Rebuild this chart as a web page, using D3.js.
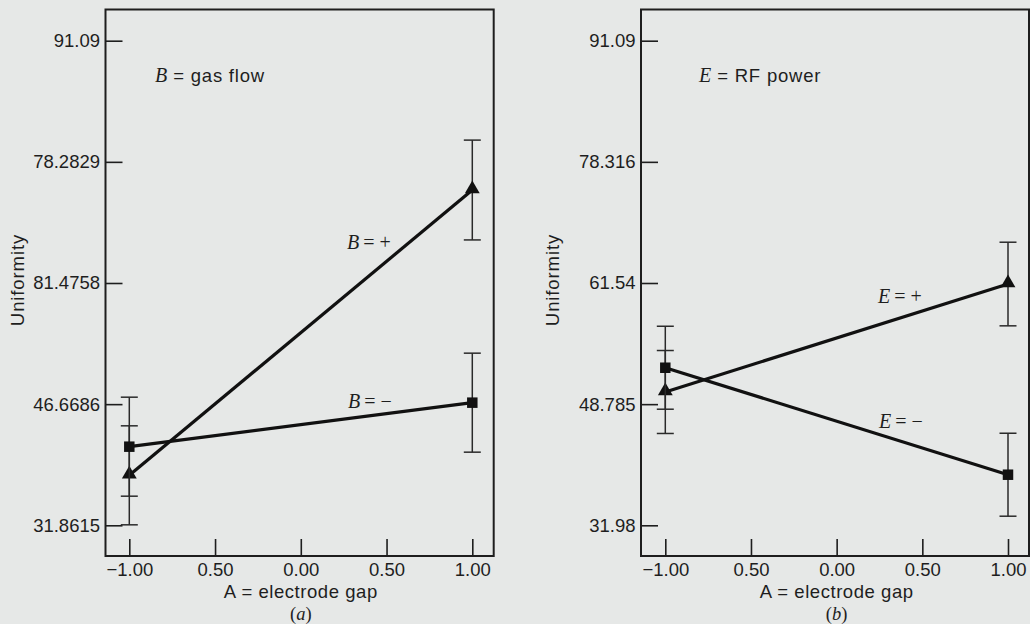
<!DOCTYPE html>
<html>
<head>
<meta charset="utf-8">
<script src="https://cdn.jsdelivr.net/npm/d3@7"></script>
<style>
  html, body { margin: 0; padding: 0; background: #e6e8e7; }
  svg { display: block; }
  .sans { font-family: "Liberation Sans", Arial, Helvetica, sans-serif; }
  .serif { font-family: "Liberation Serif", "DejaVu Serif", serif; }
</style>
</head>
<body>
<svg id="chart" width="1030" height="624"></svg>
<script>
// ---------- data ----------
const xLevels = [-1, 1];
const xTickValues = [-1, -0.5, 0, 0.5, 1];
const xTickLabels = ["\u22121.00", "0.50", "0.00", "0.50", "1.00"];

// panel (a): B = gas flow
const yTickValuesA = [31.8615, 46.6686, 61.4758, 76.2829, 91.09];
const yTickLabelsA = ["31.8615", "46.6686", "81.4758", "78.2829", "91.09"];
const bPlus = [37.97, 72.84];
const bPlusErr = [6.05, 6.1];
const bMinus = [41.47, 46.85];
const bMinusErr = [6.05, 6.05];

// panel (b): E = RF power
const yTickValuesB = [31.98, 46.7575, 61.535, 76.3125, 91.09];
const yTickLabelsB = ["31.98", "48.785", "61.54", "78.316", "91.09"];
const ePlus = [48.24, 61.41];
const ePlusErr = [5.06, 5.1];
const eMinus = [51.2, 38.15];
const eMinusErr = [5.06, 5.06];

// ---------- drawing ----------
const svg = d3.select("#chart");
const INK = "#1e1e1e";

function panel(cfg) {
  const g = svg.append("g");
  const x = d3.scaleLinear().domain([-1, 1]).range([cfg.x1, cfg.x2]);
  const y = d3.scaleLinear().domain([cfg.yTicks[0], cfg.yTicks[cfg.yTicks.length - 1]]).range([525.3, 40.7]);

  // frame
  g.append("rect")
    .attr("x", cfg.left).attr("y", 9.5)
    .attr("width", cfg.right - cfg.left).attr("height", 556 - 9.5)
    .attr("fill", "none").attr("stroke", INK).attr("stroke-width", 2);

  // y axis
  const yAxis = d3.axisLeft(y)
    .tickValues(cfg.yTicks)
    .tickFormat((d, i) => cfg.yLabels[i])
    .tickSize(-17)
    .tickPadding(5.5);
  const ya = g.append("g").attr("transform", `translate(${cfg.left},0)`).call(yAxis);
  ya.select(".domain").remove();
  ya.selectAll("line").attr("stroke", INK).attr("stroke-width", 1.6);
  ya.selectAll("text").attr("class", "sans").attr("font-size", 18.5).attr("fill", INK);

  // x axis
  const xAxis = d3.axisBottom(x)
    .tickValues(xTickValues)
    .tickFormat((d, i) => xTickLabels[i])
    .tickSize(-17)
    .tickPadding(7);
  const xa = g.append("g").attr("transform", `translate(0,556)`).call(xAxis);
  xa.select(".domain").remove();
  xa.selectAll("line").attr("stroke", INK).attr("stroke-width", 1.6);
  xa.selectAll("text").attr("class", "sans").attr("font-size", 18.5).attr("fill", INK);

  // axis titles
  const cx = (x(-1) + x(1)) / 2;
  g.append("text").attr("class", "sans")
    .attr("x", cx).attr("y", 597.5).attr("text-anchor", "middle")
    .attr("font-size", 18.5).style("letter-spacing", "0.55px").attr("fill", INK)
    .text("A = electrode gap");
  const sub = g.append("text").attr("class", "serif")
    .attr("x", cx).attr("y", 620).attr("text-anchor", "middle")
    .attr("font-size", 18.5).attr("fill", INK);
  sub.append("tspan").text("(");
  sub.append("tspan").attr("font-style", "italic").text(cfg.sub);
  sub.append("tspan").text(")");

  g.append("text").attr("class", "sans")
    .attr("transform", `translate(${cfg.yTitleX},280) rotate(-90)`)
    .attr("text-anchor", "middle").attr("font-size", 18.5)
    .style("letter-spacing", "0.9px").attr("fill", INK)
    .text("Uniformity");

  // factor title
  const t = g.append("text").attr("x", cfg.titleX).attr("y", 82).attr("fill", INK);
  t.append("tspan").attr("class", "serif").attr("font-style", "italic").attr("font-size", 20).text(cfg.factor);
  t.append("tspan").attr("class", "sans").attr("font-size", 18.5).style("letter-spacing", "0.8px")
    .text(" = " + cfg.factorName);

  // series
  cfg.series.forEach(s => {
    const pts = xLevels.map((lv, i) => ({ x: lv, v: s.values[i], e: s.err[i] }));
    // error bars
    pts.forEach(p => {
      const px = x(p.x);
      const eg = g.append("g").attr("stroke", "#2a2a2a").attr("stroke-width", 1.5);
      eg.append("line").attr("x1", px).attr("x2", px).attr("y1", y(p.v + p.e)).attr("y2", y(p.v - p.e));
      [p.v + p.e, p.v - p.e].forEach(v => {
        eg.append("line").attr("x1", px - 8.5).attr("x2", px + 8.5).attr("y1", y(v)).attr("y2", y(v));
      });
    });
    // line
    g.append("path").datum(pts)
      .attr("d", d3.line().x(d => x(d.x)).y(d => y(d.v)))
      .attr("fill", "none").attr("stroke", "#111").attr("stroke-width", 3.2);
    // markers
    const sym = s.marker === "triangle" ? d3.symbolTriangle : d3.symbolSquare;
    const size = s.marker === "triangle" ? 95 : 110;
    g.selectAll(null).data(pts).enter().append("path")
      .attr("transform", d => `translate(${x(d.x)},${y(d.v) + (s.marker === "triangle" ? -1 : 0)})`)
      .attr("d", d3.symbol().type(sym).size(size))
      .attr("fill", "#111");
    // series label
    const lb = g.append("text").attr("class", "serif").attr("x", s.labelX).attr("y", s.labelY)
      .attr("fill", INK).attr("font-size", 20).attr("xml:space", "preserve");
    lb.append("tspan").attr("font-style", "italic").text(cfg.factor);
    lb.append("tspan").text("\u2009= " + s.sign);
  });
}

panel({
  left: 105.5, right: 493.7, x1: 129.3, x2: 472.3,
  yTicks: yTickValuesA, yLabels: yTickLabelsA,
  sub: "a", factor: "B", factorName: "gas flow", titleX: 155, yTitleX: 24,
  series: [
    { values: bPlus, err: bPlusErr, marker: "triangle", sign: "+", labelX: 347, labelY: 249 },
    { values: bMinus, err: bMinusErr, marker: "square", sign: "\u2212", labelX: 348, labelY: 408 }
  ]
});

panel({
  left: 641, right: 1029, x1: 665.3, x2: 1008,
  yTicks: yTickValuesB, yLabels: yTickLabelsB,
  sub: "b", factor: "E", factorName: "RF power", titleX: 699, yTitleX: 559,
  series: [
    { values: ePlus, err: ePlusErr, marker: "triangle", sign: "+", labelX: 878, labelY: 302.5 },
    { values: eMinus, err: eMinusErr, marker: "square", sign: "\u2212", labelX: 879, labelY: 427.5 }
  ]
});
</script>
</body>
</html>
